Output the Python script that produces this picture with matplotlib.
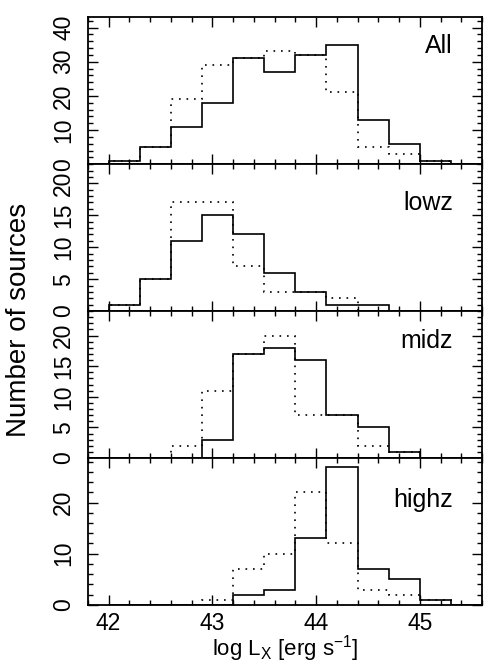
import numpy as np
import matplotlib
matplotlib.use("Agg")
import matplotlib.pyplot as plt
from matplotlib.ticker import MultipleLocator

plt.rcParams["font.family"] = ["Liberation Sans", "DejaVu Sans"]
plt.rcParams["mathtext.default"] = "regular"

# bin edges in log Lx
edges = [42.0, 42.3, 42.6, 42.9, 43.2, 43.5, 43.8, 44.1, 44.4, 44.7, 45.0, 45.3, 45.6]

# counts per bin (solid and dotted histograms)
all_solid  = [1, 5, 11, 18, 31, 27, 32, 35, 13, 6, 1, 0]
all_dot    = [1, 5, 19, 29, 31, 33, 32, 21, 5, 3, 1, 0]
lowz_solid = [1, 5, 11, 15, 12, 6, 3, 1, 1, 0, 0, 0]
lowz_dot   = [1, 5, 17, 17, 7, 3, 3, 2, 0, 0, 0, 0]
midz_solid = [0, 0, 0, 3, 17, 18, 16, 7, 5, 1, 0, 0]
midz_dot   = [0, 0, 2, 11, 17, 20, 7, 7, 2, 1, 0, 0]
highz_solid = [0, 0, 0, 0, 2, 3, 13, 27, 7, 5, 1, 0]
highz_dot   = [0, 0, 0, 1, 7, 10, 22, 12, 3, 2, 1, 0]

names = ["All", "lowz", "midz", "highz"]
solids = [all_solid, lowz_solid, midz_solid, highz_solid]
dots = [all_dot, lowz_dot, midz_dot, highz_dot]

# panel settings
ytops = [43, 23, 24, 28.7]
ymajor = [10, 5, 5, 10]
yminor = [2, 1, 1, 2]
label_y = [0.76, 0.685, 0.752, 0.666]

fig, axes = plt.subplots(4, 1, figsize=(4.85, 6.64), dpi=100, sharex=True)
fig.subplots_adjust(left=0.181, right=0.994, top=0.974, bottom=0.089, hspace=0)

for i, ax in enumerate(axes):
    ax.stairs(solids[i], edges, color="black", lw=1.2)
    ax.stairs(dots[i], edges, color="black", lw=1.2, linestyle=(0, (1, 3.5)))
    ax.set_xlim(41.8, 45.6)
    ax.set_ylim(0, ytops[i])
    ax.xaxis.set_major_locator(MultipleLocator(1))
    ax.xaxis.set_minor_locator(MultipleLocator(0.2))
    ax.yaxis.set_major_locator(MultipleLocator(ymajor[i]))
    ax.yaxis.set_minor_locator(MultipleLocator(yminor[i]))
    ax.tick_params(which="both", direction="in", top=True, right=True, width=1)
    ax.tick_params(which="major", length=7, labelsize=16.5)
    ax.tick_params(which="minor", length=3.5)
    ax.tick_params(axis="y", pad=9)
    ax.tick_params(axis="x", pad=5)
    for lab in ax.get_yticklabels():
        lab.set_rotation(90)
        lab.set_va("center")
    for s in ax.spines.values():
        s.set_linewidth(1.3)
    ax.text(0.926, label_y[i], names[i], transform=ax.transAxes,
            ha="right", va="baseline", fontsize=18)

axes[-1].set_xlabel("log L$_X$ [erg s$^{-1}$]", fontsize=16, labelpad=-1)
fig.text(0.040, 0.518, "Number of sources", rotation=90, fontsize=20,
         ha="center", va="center")

fig.savefig("out.png", dpi=100)
